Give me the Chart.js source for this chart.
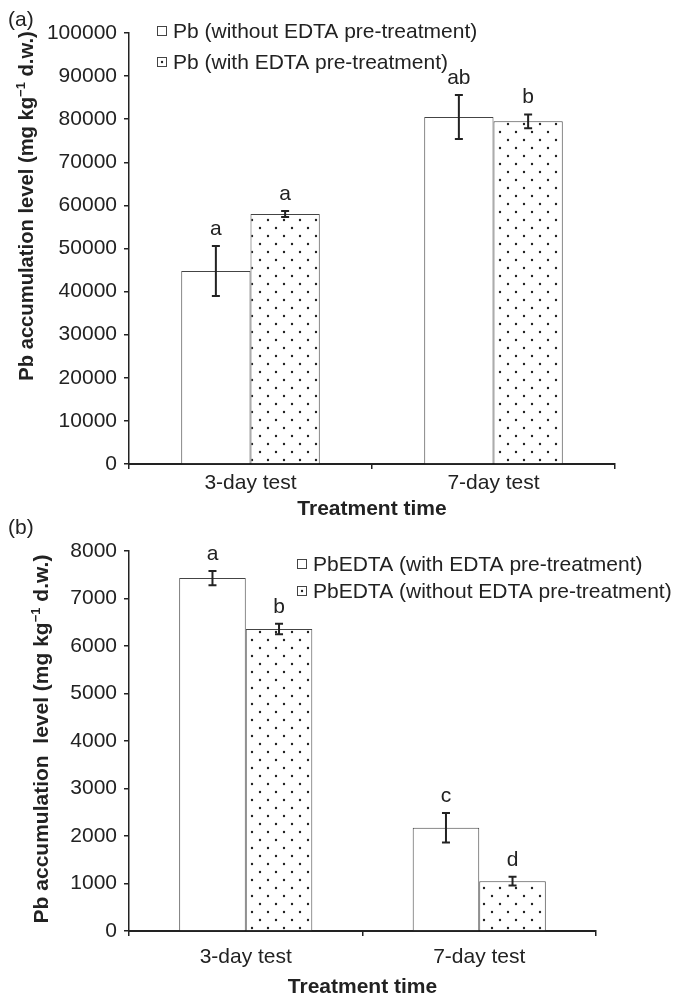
<!DOCTYPE html>
<html>
<head>
<meta charset="utf-8">
<title>Pb accumulation</title>
<script src="https://cdn.jsdelivr.net/npm/chart.js@4.4.1/dist/chart.umd.min.js"></script>
<style>
    body { margin: 0; background: #fff; }
    #wrap { position: relative; width: 679px; height: 998px; overflow: hidden; }
    canvas { position: absolute; left: 0; }
    .panel { position: absolute; left: 8px; font: 21px 'Liberation Sans', Arial, sans-serif; color: #222; }
</style>
</head>
<body>
<div id="wrap">
    <canvas id="chartA" width="679" height="520" style="top:0"></canvas>
    <canvas id="chartB" width="679" height="498" style="top:500px"></canvas>
    <div class="panel" style="top:7px">(a)</div>
    <div class="panel" style="top:515px">(b)</div>
</div>
<script>
/*global Chart, document*/
'use strict';

// categories
var days = ['3-day test', '7-day test'];

// (a) Pb, mg/kg d.w.
var pbWithout = [44800, 80500];
var pbWithoutErr = [5800, 5100];
var pbWithoutLetters = ['a', 'ab'];
var pbWith = [58000, 79500];
var pbWithErr = [700, 1600];
var pbWithLetters = ['a', 'b'];
var ticksA = { max: 100000, step: 10000 };

// (b) PbEDTA, mg/kg d.w.
var edtaWith = [7430, 2175];
var edtaWithErr = [150, 310];
var edtaWithLetters = ['a', 'c'];
var edtaWithout = [6360, 1050];
var edtaWithoutErr = [110, 90];
var edtaWithoutLetters = ['b', 'd'];
var ticksB = { max: 8000, step: 1000 };

var family = "'Liberation Sans', Arial, sans-serif";
var ink = '#222';

Chart.defaults.font.family = family;
Chart.defaults.font.size = 21;
Chart.defaults.color = ink;

function makeDots() {
    var tile = document.createElement('canvas');
    tile.width = 16;
    tile.height = 16;
    var c = tile.getContext('2d');
    c.fillStyle = '#fff';
    c.fillRect(0, 0, 16, 16);
    c.fillStyle = ink;
    c.beginPath();
    c.arc(4, 4, 1.2, 0, Math.PI * 2);
    c.arc(12, 12, 1.2, 0, Math.PI * 2);
    c.fill();
    return document.createElement('canvas').getContext('2d').createPattern(tile, 'repeat');
}
var dots = makeDots();

// error bars and significance letters
var errorBars = {
    id: 'errorBars',
    afterDatasetsDraw: function (chart) {
        var ctx = chart.ctx;
        var y = chart.scales.y;
        ctx.save();
        chart.data.datasets.forEach(function (ds, i) {
            chart.getDatasetMeta(i).data.forEach(function (bar, j) {
                var top = y.getPixelForValue(ds.data[j] + ds.err[j]);
                var bot = y.getPixelForValue(ds.data[j] - ds.err[j]);
                ctx.strokeStyle = ink;
                ctx.lineWidth = 2;
                ctx.beginPath();
                ctx.moveTo(bar.x, top);
                ctx.lineTo(bar.x, bot);
                ctx.moveTo(bar.x - 4, top);
                ctx.lineTo(bar.x + 4, top);
                ctx.moveTo(bar.x - 4, bot);
                ctx.lineTo(bar.x + 4, bot);
                ctx.stroke();
                ctx.fillStyle = ink;
                ctx.font = '21px ' + family;
                ctx.textAlign = 'center';
                ctx.textBaseline = 'alphabetic';
                ctx.fillText(ds.letters[j], bar.x, top - 11);
            });
        });
        ctx.restore();
    }
};

// legend boxes inside the plot
var boxLegend = {
    id: 'boxLegend',
    afterDraw: function (chart, args, opts) {
        var ctx = chart.ctx;
        ctx.save();
        ctx.font = '21px ' + family;
        ctx.textBaseline = 'middle';
        ctx.textAlign = 'left';
        chart.data.datasets.forEach(function (ds, i) {
            var yy = opts.y + i * opts.gap;
            ctx.fillStyle = '#fff';
            ctx.fillRect(opts.x, yy - 5, 10, 10);
            ctx.strokeStyle = '#444';
            ctx.lineWidth = 1;
            ctx.strokeRect(opts.x + 0.5, yy - 4.5, 9, 9);
            if (ds.dotted) {
                ctx.fillStyle = ink;
                ctx.beginPath();
                ctx.arc(opts.x + 5, yy, 1.2, 0, Math.PI * 2);
                ctx.fill();
            }
            ctx.fillStyle = ink;
            ctx.fillText(ds.label, opts.x + 16, yy + 1);
        });
        ctx.restore();
    }
};

// rotated y title with superscript
var sideTitle = {
    id: 'sideTitle',
    afterDraw: function (chart, args, opts) {
        var ctx = chart.ctx;
        var big = 'bold ' + opts.size + 'px ';
        var parts = [[opts.text, big], ['\u22121', 'bold 13px '], [' d.w.)', big]];
        ctx.save();
        ctx.translate(opts.x, opts.y);
        ctx.rotate(-Math.PI / 2);
        ctx.fillStyle = ink;
        ctx.textBaseline = 'middle';
        ctx.textAlign = 'left';
        var total = 0;
        parts.forEach(function (p) {
            ctx.font = p[1] + family;
            total += ctx.measureText(p[0]).width;
        });
        var x = -total / 2;
        parts.forEach(function (p, k) {
            ctx.font = p[1] + family;
            ctx.fillText(p[0], x, k === 1 ? -6 : 0);
            x += ctx.measureText(p[0]).width;
        });
        ctx.restore();
    }
};

function buildChart(id, sets, ticks, box) {
    return new Chart(document.getElementById(id), {
        type: 'bar',
        data: {
            labels: days,
            datasets: sets.map(function (s) {
                return {
                    label: s.label,
                    data: s.data,
                    err: s.err,
                    letters: s.letters,
                    dotted: s.dotted,
                    backgroundColor: s.dotted ? dots : '#fff',
                    borderColor: '#444',
                    borderWidth: 1,
                    categoryPercentage: 0.57,
                    barPercentage: 1.0
                };
            })
        },
        options: {
            responsive: false,
            animation: false,
            layout: { padding: { left: 0, top: box.top, right: box.right, bottom: 0 } },
            plugins: {
                legend: { display: false },
                tooltip: { enabled: false },
                boxLegend: box.legend,
                sideTitle: box.title
            },
            scales: {
                x: {
                    grid: { drawOnChartArea: false, offset: true, tickLength: 5, color: ink, lineWidth: 1.5 },
                    border: { color: ink, width: 2 },
                    ticks: { padding: box.tickPad, color: ink },
                    title: { display: true, text: 'Treatment time', font: { size: 21, weight: 'bold', lineHeight: 1 }, padding: { top: 0, bottom: 0 }, color: ink },
                    afterFit: function (scale) { scale.height = box.xHeight; }
                },
                y: {
                    min: 0,
                    max: ticks.max,
                    grid: { drawOnChartArea: false, tickLength: 5, color: ink, lineWidth: 1.5 },
                    border: { color: ink, width: 1.5 },
                    ticks: {
                        stepSize: ticks.step,
                        padding: 7,
                        color: ink,
                        callback: function (v) { return String(v); }
                    },
                    afterFit: function (scale) { scale.width = 129; }
                }
            }
        },
        plugins: [errorBars, boxLegend, sideTitle]
    });
}

var chartA = buildChart('chartA', [
    { label: 'Pb (without EDTA pre-treatment)', data: pbWithout, err: pbWithoutErr, letters: pbWithoutLetters, dotted: false },
    { label: 'Pb (with EDTA pre-treatment)', data: pbWith, err: pbWithErr, letters: pbWithLetters, dotted: true }
], ticksA, {
    top: 33, right: 64, xHeight: 56, tickPad: 2,
    legend: { x: 157, y: 31, gap: 31 },
    title: { x: 27, y: 206, size: 20.2, text: 'Pb accumulation level (mg kg' }
});

var chartB = buildChart('chartB', [
    { label: 'PbEDTA (with EDTA pre-treatment)', data: edtaWith, err: edtaWithErr, letters: edtaWithLetters, dotted: false },
    { label: 'PbEDTA (without EDTA pre-treatment)', data: edtaWithout, err: edtaWithoutErr, letters: edtaWithoutLetters, dotted: true }
], ticksB, {
    top: 51, right: 83, xHeight: 67, tickPad: 9,
    legend: { x: 297, y: 64, gap: 27 },
    title: { x: 42, y: 239, size: 21, text: 'Pb accumulation  level (mg kg' }
});
</script>
</body>
</html>
